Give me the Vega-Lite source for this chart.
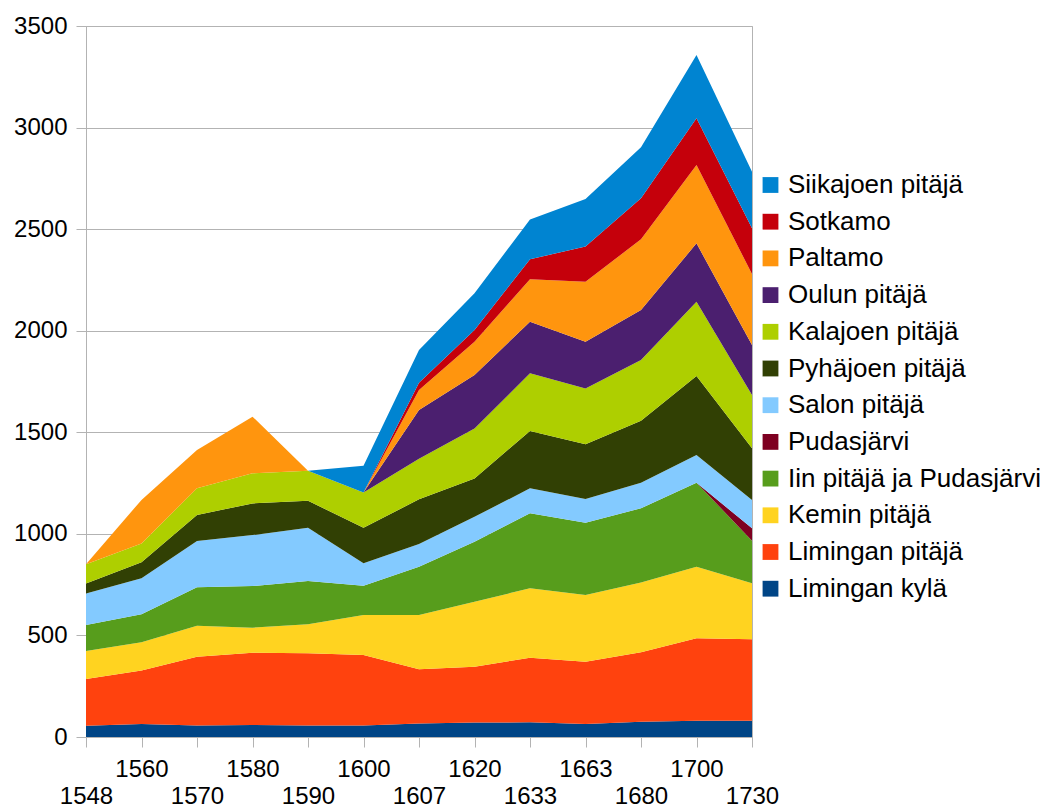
{
  "$schema": "https://vega.github.io/schema/vega-lite/v6.json",
  "autosize": {"type": "none"},
  "width": 666,
  "height": 711,
  "padding": {"left": 86, "top": 26, "right": 293, "bottom": 73},
  "background": "white",
  "config": {
    "font": "Liberation Sans",
    "view": {"stroke": "#b3b3b3", "strokeWidth": 1}
  },
  "data": {
    "values": [
      {"vuosi": "1548", "Limingan kylä": 55, "Limingan pitäjä": 230, "Kemin pitäjä": 138, "Iin pitäjä ja Pudasjärvi": 128, "Pudasjärvi": 0, "Salon pitäjä": 156, "Pyhäjoen pitäjä": 49, "Kalajoen pitäjä": 95, "Oulun pitäjä": 0, "Paltamo": 0, "Sotkamo": 0, "Siikajoen pitäjä": 0},
      {"vuosi": "1560", "Limingan kylä": 64, "Limingan pitäjä": 263, "Kemin pitäjä": 139, "Iin pitäjä ja Pudasjärvi": 138, "Pudasjärvi": 0, "Salon pitäjä": 177, "Pyhäjoen pitäjä": 79, "Kalajoen pitäjä": 93, "Oulun pitäjä": 0, "Paltamo": 214, "Sotkamo": 0, "Siikajoen pitäjä": 0},
      {"vuosi": "1570", "Limingan kylä": 56, "Limingan pitäjä": 339, "Kemin pitäjä": 153, "Iin pitäjä ja Pudasjärvi": 189, "Pudasjärvi": 0, "Salon pitäjä": 228, "Pyhäjoen pitäjä": 128, "Kalajoen pitäjä": 131, "Oulun pitäjä": 0, "Paltamo": 189, "Sotkamo": 0, "Siikajoen pitäjä": 0},
      {"vuosi": "1580", "Limingan kylä": 59, "Limingan pitäjä": 356, "Kemin pitäjä": 123, "Iin pitäjä ja Pudasjärvi": 205, "Pudasjärvi": 0, "Salon pitäjä": 251, "Pyhäjoen pitäjä": 156, "Kalajoen pitäjä": 148, "Oulun pitäjä": 0, "Paltamo": 279, "Sotkamo": 0, "Siikajoen pitäjä": 0},
      {"vuosi": "1590", "Limingan kylä": 56, "Limingan pitäjä": 356, "Kemin pitäjä": 143, "Iin pitäjä ja Pudasjärvi": 213, "Pudasjärvi": 0, "Salon pitäjä": 262, "Pyhäjoen pitäjä": 133, "Kalajoen pitäjä": 148, "Oulun pitäjä": 0, "Paltamo": 0, "Sotkamo": 0, "Siikajoen pitäjä": 0},
      {"vuosi": "1600", "Limingan kylä": 56, "Limingan pitäjä": 348, "Kemin pitäjä": 196, "Iin pitäjä ja Pudasjärvi": 145, "Pudasjärvi": 0, "Salon pitäjä": 110, "Pyhäjoen pitäjä": 175, "Kalajoen pitäjä": 173, "Oulun pitäjä": 0, "Paltamo": 0, "Sotkamo": 0, "Siikajoen pitäjä": 132},
      {"vuosi": "1607", "Limingan kylä": 67, "Limingan pitäjä": 266, "Kemin pitäjä": 267, "Iin pitäjä ja Pudasjärvi": 238, "Pudasjärvi": 0, "Salon pitäjä": 112, "Pyhäjoen pitäjä": 220, "Kalajoen pitäjä": 200, "Oulun pitäjä": 240, "Paltamo": 98, "Sotkamo": 36, "Siikajoen pitäjä": 161},
      {"vuosi": "1620", "Limingan kylä": 71, "Limingan pitäjä": 275, "Kemin pitäjä": 320, "Iin pitäjä ja Pudasjärvi": 295, "Pudasjärvi": 0, "Salon pitäjä": 123, "Pyhäjoen pitäjä": 189, "Kalajoen pitäjä": 246, "Oulun pitäjä": 263, "Paltamo": 164, "Sotkamo": 57, "Siikajoen pitäjä": 181},
      {"vuosi": "1633", "Limingan kylä": 72, "Limingan pitäjä": 318, "Kemin pitäjä": 342, "Iin pitäjä ja Pudasjärvi": 369, "Pudasjärvi": 0, "Salon pitäjä": 123, "Pyhäjoen pitäjä": 282, "Kalajoen pitäjä": 284, "Oulun pitäjä": 254, "Paltamo": 209, "Sotkamo": 99, "Siikajoen pitäjä": 196},
      {"vuosi": "1663", "Limingan kylä": 64, "Limingan pitäjä": 307, "Kemin pitäjä": 328, "Iin pitäjä ja Pudasjärvi": 356, "Pudasjärvi": 0, "Salon pitäjä": 117, "Pyhäjoen pitäjä": 269, "Kalajoen pitäjä": 275, "Oulun pitäjä": 230, "Paltamo": 295, "Sotkamo": 173, "Siikajoen pitäjä": 234},
      {"vuosi": "1680", "Limingan kylä": 75, "Limingan pitäjä": 342, "Kemin pitäjä": 343, "Iin pitäjä ja Pudasjärvi": 366, "Pudasjärvi": 0, "Salon pitäjä": 126, "Pyhäjoen pitäjä": 305, "Kalajoen pitäjä": 299, "Oulun pitäjä": 246, "Paltamo": 348, "Sotkamo": 202, "Siikajoen pitäjä": 251},
      {"vuosi": "1700", "Limingan kylä": 80, "Limingan pitäjä": 406, "Kemin pitäjä": 352, "Iin pitäjä ja Pudasjärvi": 414, "Pudasjärvi": 0, "Salon pitäjä": 136, "Pyhäjoen pitäjä": 389, "Kalajoen pitäjä": 366, "Oulun pitäjä": 287, "Paltamo": 386, "Sotkamo": 230, "Siikajoen pitäjä": 311},
      {"vuosi": "1730", "Limingan kylä": 80, "Limingan pitäjä": 401, "Kemin pitäjä": 276, "Iin pitäjä ja Pudasjärvi": 209, "Pudasjärvi": 61, "Salon pitäjä": 140, "Pyhäjoen pitäjä": 254, "Kalajoen pitäjä": 263, "Oulun pitäjä": 246, "Paltamo": 349, "Sotkamo": 225, "Siikajoen pitäjä": 279}
    ]
  },
  "transform": [
    {"fold": ["Limingan kylä", "Limingan pitäjä", "Kemin pitäjä", "Iin pitäjä ja Pudasjärvi", "Pudasjärvi", "Salon pitäjä", "Pyhäjoen pitäjä", "Kalajoen pitäjä", "Oulun pitäjä", "Paltamo", "Sotkamo", "Siikajoen pitäjä"], "as": ["alue", "arvo"]},
    {"calculate": "indexof(['Limingan kylä', 'Limingan pitäjä', 'Kemin pitäjä', 'Iin pitäjä ja Pudasjärvi', 'Pudasjärvi', 'Salon pitäjä', 'Pyhäjoen pitäjä', 'Kalajoen pitäjä', 'Oulun pitäjä', 'Paltamo', 'Sotkamo', 'Siikajoen pitäjä'], datum.alue)", "as": "jarjestys"}
  ],
  "mark": {"type": "area", "interpolate": "linear"},
  "encoding": {
    "x": {
      "field": "vuosi",
      "type": "ordinal",
      "scale": {"type": "point", "padding": 0},
      "axis": {
        "title": null,
        "labelAngle": 0,
        "labelFontSize": 24,
        "labelColor": "black",
        "labelFont": "Liberation Sans",
        "labelExpr": "datum.index * 12 % 2 == 0 ? ['', datum.label] : datum.label",
        "labelLineHeight": 27,
        "labelBaseline": "top",
        "labelPadding": 10,
        "labelOverlap": false,
        "labelFlush": false,
        "tickSize": 10,
        "tickColor": "#b3b3b3",
        "domainColor": "#b3b3b3",
        "grid": false
      }
    },
    "y": {
      "field": "arvo",
      "type": "quantitative",
      "stack": "zero",
      "scale": {"domain": [0, 3500], "nice": false},
      "axis": {
        "title": null,
        "values": [0, 500, 1000, 1500, 2000, 2500, 3000, 3500],
        "format": "d",
        "labelFontSize": 24,
        "labelColor": "black",
        "labelFont": "Liberation Sans",
        "labelPadding": 9,
        "tickSize": 10,
        "tickColor": "#b3b3b3",
        "domainColor": "#b3b3b3",
        "gridColor": "#b3b3b3",
        "gridOpacity": 1
      }
    },
    "color": {
      "field": "alue",
      "type": "nominal",
      "scale": {
        "domain": ["Siikajoen pitäjä", "Sotkamo", "Paltamo", "Oulun pitäjä", "Kalajoen pitäjä", "Pyhäjoen pitäjä", "Salon pitäjä", "Pudasjärvi", "Iin pitäjä ja Pudasjärvi", "Kemin pitäjä", "Limingan pitäjä", "Limingan kylä"],
        "range": ["#0084d1", "#c5000b", "#ff950e", "#4b1f6f", "#aecf00", "#314004", "#83caff", "#7e0021", "#579d1c", "#ffd320", "#ff420e", "#004586"]
      },
      "legend": {
        "title": null,
        "orient": "none",
        "legendX": 671.5,
        "legendY": 146,
        "padding": 0,
        "symbolType": "square",
        "symbolSize": 250,
        "symbolStrokeWidth": 0,
        "labelFontSize": 26,
        "labelColor": "black",
        "labelFont": "Liberation Sans",
        "labelOffset": 4.5,
        "rowPadding": 10.7,
        "labelLimit": 400
      }
    },
    "order": {"field": "jarjestys", "type": "quantitative", "sort": "ascending"}
  }
}
